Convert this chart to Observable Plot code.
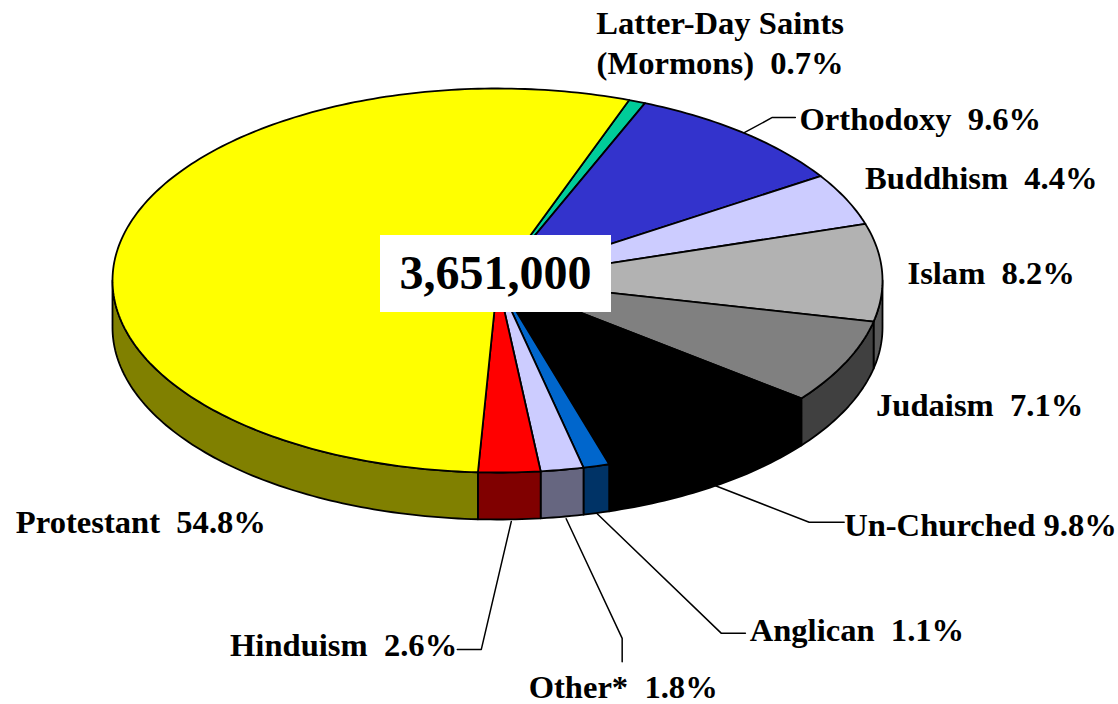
<!DOCTYPE html>
<html>
<head>
<meta charset="utf-8">
<script src="https://cdn.jsdelivr.net/npm/d3@7"></script>
<script src="https://cdn.jsdelivr.net/npm/@observablehq/plot@0.6"></script>
<style>
  html, body { margin: 0; padding: 0; background: #fff; overflow: hidden; }
  svg { display: block; }
  svg text { white-space: pre; }
</style>
</head>
<body>
<div id="chart"></div>
<script>
// ---- values ----
const religions = ["Latter-Day Saints", "Orthodoxy", "Buddhism", "Islam", "Judaism", "Un-Churched", "Anglican", "Other", "Hinduism", "Protestant"];
const shares = [0.7, 9.6, 4.4, 8.2, 7.1, 9.8, 1.1, 1.8, 2.6, 54.8];
const labels = ["Latter-Day Saints\n(Mormons)  0.7%", "Orthodoxy  9.6%", "Buddhism  4.4%", "Islam  8.2%", "Judaism  7.1%", "Un-Churched 9.8%", "Anglican  1.1%", "Other*  1.8%", "Hinduism  2.6%", "Protestant  54.8%"];
const total = "3,651,000";

// ---- styles ----
const topFills = ["#00CC99", "#3333CC", "#CCCCFF", "#B2B2B2", "#808080", "#000000", "#0066CC", "#CCCCFF", "#FF0000", "#FFFF00"];
const wallFills = ["#006650", "#1A1A66", "#666680", "#595959", "#404040", "#000000", "#003366", "#666680", "#800000", "#808000"];

// ---- layout, in chart units relative to each slice's rim point ----
const pie3d = {cx: 497, cy: 280, rx: 385, ry: 192, depth: 47, startDeg: 20};
const labelOffsets = [[83, -60.5], [176.5, -15.5], [135, -23], [109, -2], [133.6, 41], [265, 84.5], [260.5, 162], [61, 215], [-165.7, 171], [20.7, 278]];
const leaderOffsets = {
  "Orthodoxy": {wall: false, points: [[0, 0], [28.5, -15.5], [51.5, -15.5]]},
  "Un-Churched": {wall: true, points: [[0, 0], [93.7, 36.5], [128.7, 36.5]]},
  "Anglican": {wall: true, points: [[0, 0], [125, 120.3], [149, 120.3]]},
  "Other": {wall: true, points: [[4, 2], [60, 121.6], [60, 145]]},
  "Hinduism": {wall: true, points: [[2, 2], [-28, 130], [-52, 130]]}
};
const totalBox = {left: -117, right: 114, top: -45, bottom: 32, textDx: -2, textDy: -7};

// ---- geometry derived from the shares ----
const rad = d => d * Math.PI / 180;
const rim = (deg, drop = 0) => ({
  x: pie3d.cx + pie3d.rx * Math.sin(rad(deg)),
  y: pie3d.cy - pie3d.ry * Math.cos(rad(deg)) + drop
});
const arcs = d3.pie().sort(null).value(d => d)
  .startAngle(rad(pie3d.startDeg)).endAngle(rad(pie3d.startDeg + 360))(shares);
const slices = religions.map((name, i) => ({
  name, i,
  a0: arcs[i].startAngle * 180 / Math.PI,
  a1: arcs[i].endAngle * 180 / Math.PI
}));
const sweep = (a0, a1) => {
  const n = Math.max(2, Math.ceil(a1 - a0));
  return d3.range(n + 1).map(k => a0 + (a1 - a0) * k / n);
};

const topRows = slices.flatMap(s => [
  {slice: s.name, fill: topFills[s.i], x: pie3d.cx, y: pie3d.cy},
  ...sweep(s.a0, s.a1).map(a => ({slice: s.name, fill: topFills[s.i], ...rim(a)}))
]);

const wallRows = slices.flatMap(s => {
  const a0 = Math.max(s.a0, 90), a1 = Math.min(s.a1, 270);
  if (a1 <= a0) return [];
  const angles = sweep(a0, a1);
  return [
    ...angles.map(a => ({slice: s.name, fill: wallFills[s.i], ...rim(a)})),
    ...angles.slice().reverse().map(a => ({slice: s.name, fill: wallFills[s.i], ...rim(a, pie3d.depth)}))
  ];
});

const labelRows = slices.map(s => {
  const p = rim((s.a0 + s.a1) / 2);
  return {text: labels[s.i], x: p.x + labelOffsets[s.i][0], y: p.y + labelOffsets[s.i][1]};
});

const leaderRows = slices.filter(s => leaderOffsets[s.name]).flatMap(s => {
  const spec = leaderOffsets[s.name];
  const p = rim((s.a0 + s.a1) / 2, spec.wall ? pie3d.depth : 0);
  return spec.points.map(([dx, dy]) => ({slice: s.name, x: p.x + dx, y: p.y + dy}));
});

const labelFont = {fontFamily: "Liberation Serif", fontWeight: "bold", fill: "#000"};

const chart = Plot.plot({
  width: 1118,
  height: 704,
  margin: 0,
  x: {domain: [0, 1118], range: [0, 1118], axis: null},
  y: {domain: [0, 704], range: [0, 704], axis: null},
  color: {type: "identity"},
  marks: [
    Plot.line(leaderRows, {x: "x", y: "y", z: "slice", stroke: "#000", strokeWidth: 1.5, curve: "linear"}),
    Plot.line(wallRows, {x: "x", y: "y", z: "slice", fill: "fill", stroke: "#000", strokeWidth: 1.8, strokeLinejoin: "round", curve: "linear-closed"}),
    Plot.line(topRows, {x: "x", y: "y", z: "slice", fill: "fill", stroke: "#000", strokeWidth: 1.8, strokeLinejoin: "round", curve: "linear-closed"}),
    Plot.rect([pie3d], {
      x1: d => d.cx + totalBox.left, x2: d => d.cx + totalBox.right,
      y1: d => d.cy + totalBox.top, y2: d => d.cy + totalBox.bottom,
      fill: "#fff"
    }),
    Plot.text([pie3d], {
      x: d => d.cx + totalBox.textDx, y: d => d.cy + totalBox.textDy,
      text: () => total, fontSize: 48, textAnchor: "middle", ...labelFont
    }),
    Plot.text(labelRows, {
      x: "x", y: "y", text: "text", fontSize: 32.6, lineHeight: 1.25, textAnchor: "middle", ...labelFont
    })
  ]
});
document.getElementById("chart").appendChild(chart);
</script>
</body>
</html>
